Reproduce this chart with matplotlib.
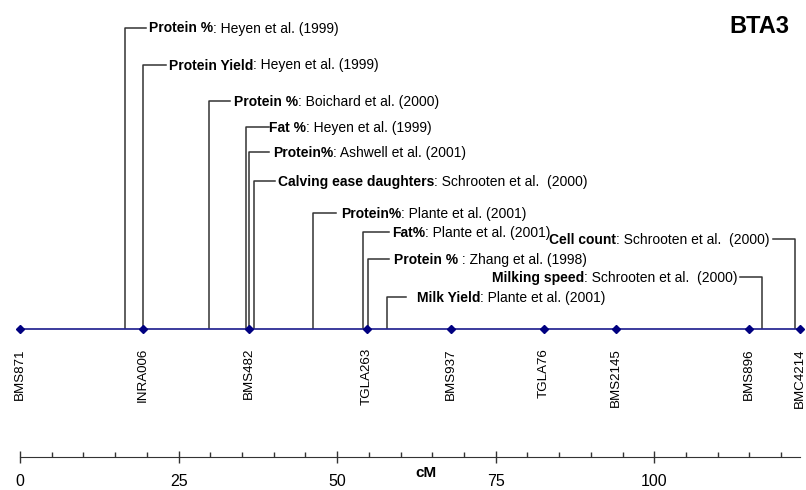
import matplotlib.pyplot as plt
import numpy as np

plt.rcParams['font.family'] = ['Liberation Sans', 'DejaVu Sans']

# marker pada peta BTA3 (posisi dalam cM)
markers = ['BMS871', 'INRA006', 'BMS482', 'TGLA263', 'BMS937',
           'TGLA76', 'BMS2145', 'BMS896', 'BMC4214']
marker_cm = [0.0, 19.4, 36.1, 54.7, 67.9, 82.6, 93.9, 114.9, 122.9]

# QTL: posisi (cM), sifat (ditulis tebal) dan sumber
qtl_cm = [16.5, 19.4, 29.8, 35.7, 36.1, 36.9, 46.2, 54.0, 122.2, 54.9, 117.0, 57.9]
qtl_trait = ['Protein %', 'Protein Yield', 'Protein %', 'Fat %', 'Protein%',
             'Calving ease daughters', 'Protein%', 'Fat%', 'Cell count',
             'Protein %', 'Milking speed', 'Milk Yield']
qtl_ref = [': Heyen et al. (1999)', ': Heyen et al. (1999)', ': Boichard et al. (2000)',
           ': Heyen et al. (1999)', ': Ashwell et al. (2001)', ': Schrooten et al.  (2000)',
           ': Plante et al. (2001)', ': Plante et al. (2001)', ': Schrooten et al.  (2000)',
           ' : Zhang et al. (1998)', ': Schrooten et al.  (2000)', ': Plante et al. (2001)']

# tata letak label (piksel): baris, sisi, ujung garis penghubung, awal/akhir teks
label_row = [28, 65, 101, 127, 152, 181, 213, 232, 239, 259, 277, 297]
label_side = ['r', 'r', 'r', 'r', 'r', 'r', 'r', 'r', 'l', 'r', 'l', 'r']
link_end = [146, 166, 230, 269, 269, 275, 336, 389, 773, 389, 740, 406]
text_x = [149, 169, 234, 269, 273, 278, 341, 392, 770, 394, 738, 417]

W, H = 806, 490
x0_px = 20          # posisi 0 cM
px_cm = 6.343       # piksel per cM
line_y = 329        # garis kromosom


def px2cm(px):
    return (px - x0_px) / px_cm


fig = plt.figure(figsize=(W / 100, H / 100), dpi=100)
ax = fig.add_axes([0, 0, 1, 1])
ax.set_xlim(px2cm(0), px2cm(W))
ax.set_ylim(H, 0)
ax.axis('off')

# garis kromosom dan marker
ax.plot([marker_cm[0], marker_cm[-1]], [line_y, line_y], color='#1a1a8c', lw=1.2, zorder=3)
ax.plot(marker_cm, [line_y] * len(marker_cm), 'D', color='#000080', ms=4.5, zorder=4)
for nama, pos in zip(markers, marker_cm):
    ax.text(pos, 348, nama, rotation=90, ha='center', va='top', fontsize=9.6)

fig.canvas.draw()
renderer = fig.canvas.get_renderer()
inv = ax.transData.inverted()

# garis QTL dengan label
for i in range(len(qtl_cm)):
    pos = qtl_cm[i]
    yy = label_row[i]
    ax.plot([pos, pos, px2cm(link_end[i])], [line_y - 1, yy, yy],
            color='#333333', lw=1.1, zorder=2)
    base = yy + 4.5
    if label_side[i] == 'r':
        t = ax.text(px2cm(text_x[i]), base, qtl_trait[i], fontweight='bold',
                    fontsize=10, ha='left', va='baseline')
        bb = t.get_window_extent(renderer)
        ax.text(inv.transform((bb.x1, 0))[0], base, qtl_ref[i],
                fontsize=10, ha='left', va='baseline')
    else:
        t = ax.text(px2cm(text_x[i]), base, qtl_ref[i],
                    fontsize=10, ha='right', va='baseline')
        bb = t.get_window_extent(renderer)
        ax.text(inv.transform((bb.x0, 0))[0], base, qtl_trait[i], fontweight='bold',
                fontsize=10, ha='right', va='baseline')

ax.text(px2cm(759), 33, 'BTA3', fontsize=17, fontweight='bold', ha='center', va='baseline')
ax.text(px2cm(426), 473, 'cM', fontsize=11, fontweight='bold', ha='center', va='center')

# skala cM di bawah
axis_y = 457
ax2 = fig.add_axes([0, 1 - axis_y / H, 1, 0.01])
ax2.set_xlim(px2cm(0), px2cm(W))
ax2.patch.set_alpha(0)
for s in ['left', 'right', 'top']:
    ax2.spines[s].set_visible(False)
ax2.spines['bottom'].set_bounds(0, marker_cm[-1])
ax2.spines['bottom'].set_color('#333333')
ax2.set_yticks([])
ax2.set_xticks([0, 25, 50, 75, 100])
ax2.set_xticks(np.arange(0, 121, 5), minor=True)
ax2.tick_params(axis='x', which='major', direction='inout', length=8, width=1,
                color='#333333', labelsize=11.5, pad=8)
ax2.tick_params(axis='x', which='minor', direction='in', length=3.5, width=1,
                color='#333333')

fig.savefig('out.png', dpi=100)
